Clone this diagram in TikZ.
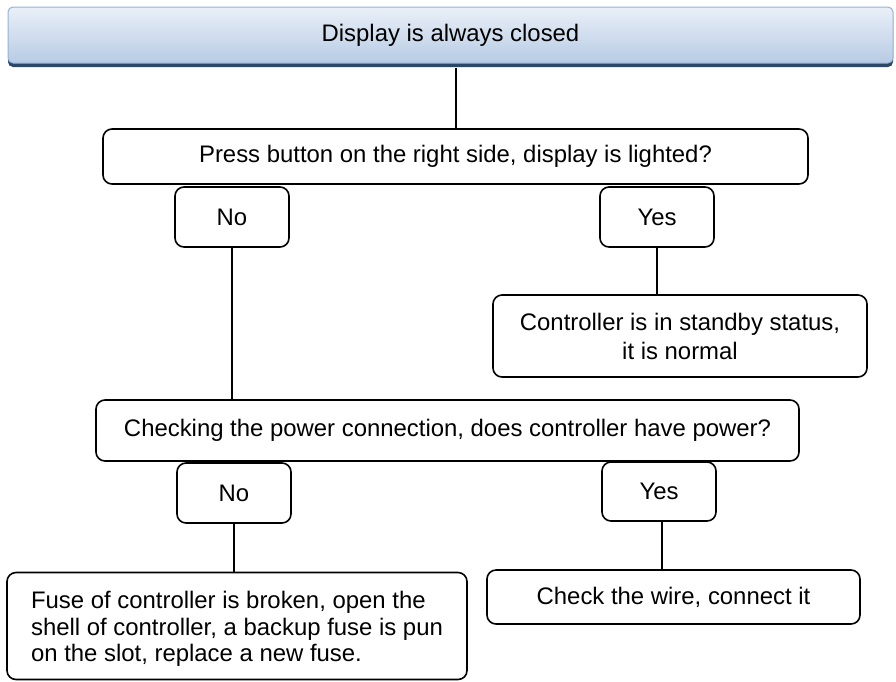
\documentclass[tikz,border=0pt]{standalone}
\usepackage{fontspec}
\setmainfont{Liberation Sans}
\definecolor{titletop}{HTML}{EAF0F8}
\definecolor{titlebot}{HTML}{B7CBE4}
\definecolor{titleshadow}{HTML}{2C4668}
\definecolor{titleborder}{HTML}{94B2D6}
\tikzset{
  box/.style={draw=black, line width=1.6pt, rounded corners=9pt, inner sep=0pt, align=center,
    font=\fontsize{23.9}{26.5}\selectfont},
  conn/.style={draw=black, line width=2pt},
}
\begin{document}
\begin{tikzpicture}[x=1pt,y=1pt]
\useasboundingbox (0,0) rectangle (896,-681);
% title
\fill[titleshadow, rounded corners=5pt] (8,-12) rectangle (893,-67);
\node[draw=titleborder, line width=1pt, rounded corners=5pt, top color=titletop, bottom color=titlebot,
  minimum width=885pt, minimum height=56pt, inner sep=0pt, font=\fontsize{23.9}{26.5}\selectfont]
  (title) at (450.5,-35) {Display is always closed};
% first question
\node[box, minimum width=705pt, minimum height=55pt] (q1) at (455.5,-156.5) {Press button on the right side, display is lighted?};
\node[box, minimum width=114pt, minimum height=60pt] (no1) at (232,-217) {No};
\node[box, minimum width=114pt, minimum height=60pt] (yes1) at (657,-217) {Yes};
\node[box, minimum width=374pt, minimum height=82pt, font=\fontsize{23.9}{29}\selectfont] (standby) at (680,-336) {Controller is in standby status,\\ it is normal};
% second question
\node[box, minimum width=703pt, minimum height=61pt] (q2) at (447.5,-430.5) {Checking the power connection, does controller have power?};
\node[box, minimum width=114pt, minimum height=60pt] (no2) at (234,-493) {No};
\node[box, minimum width=114pt, minimum height=59pt] (yes2) at (659,-491.5) {Yes};
\node[box, minimum width=373pt, minimum height=54pt] (wire) at (673.5,-597) {Check the wire, connect it};
\node[box, minimum width=460pt, minimum height=107pt] (fuse) at (237,-626) {};
\node[align=left, inner sep=0pt, font=\fontsize{23.9}{26.5}\selectfont] (fusetext) at ([yshift=-3pt]fuse.center) {Fuse of controller is broken, open the\\shell of controller, a backup fuse is pun\\on the slot, replace a new fuse.};
% connectors
\draw[conn] (title.south -| q1.north) ++(0,-4) -- (q1.north);
\draw[conn] (no1.south) -- (no1.south |- q2.north);
\draw[conn] (yes1.south) -- (yes1.south |- standby.north);
\draw[conn] (no2.south) -- (no2.south |- fuse.north);
\draw[conn] ([xshift=3pt]yes2.south) -- ([xshift=3pt]yes2.south |- wire.north);
\end{tikzpicture}
\end{document}
